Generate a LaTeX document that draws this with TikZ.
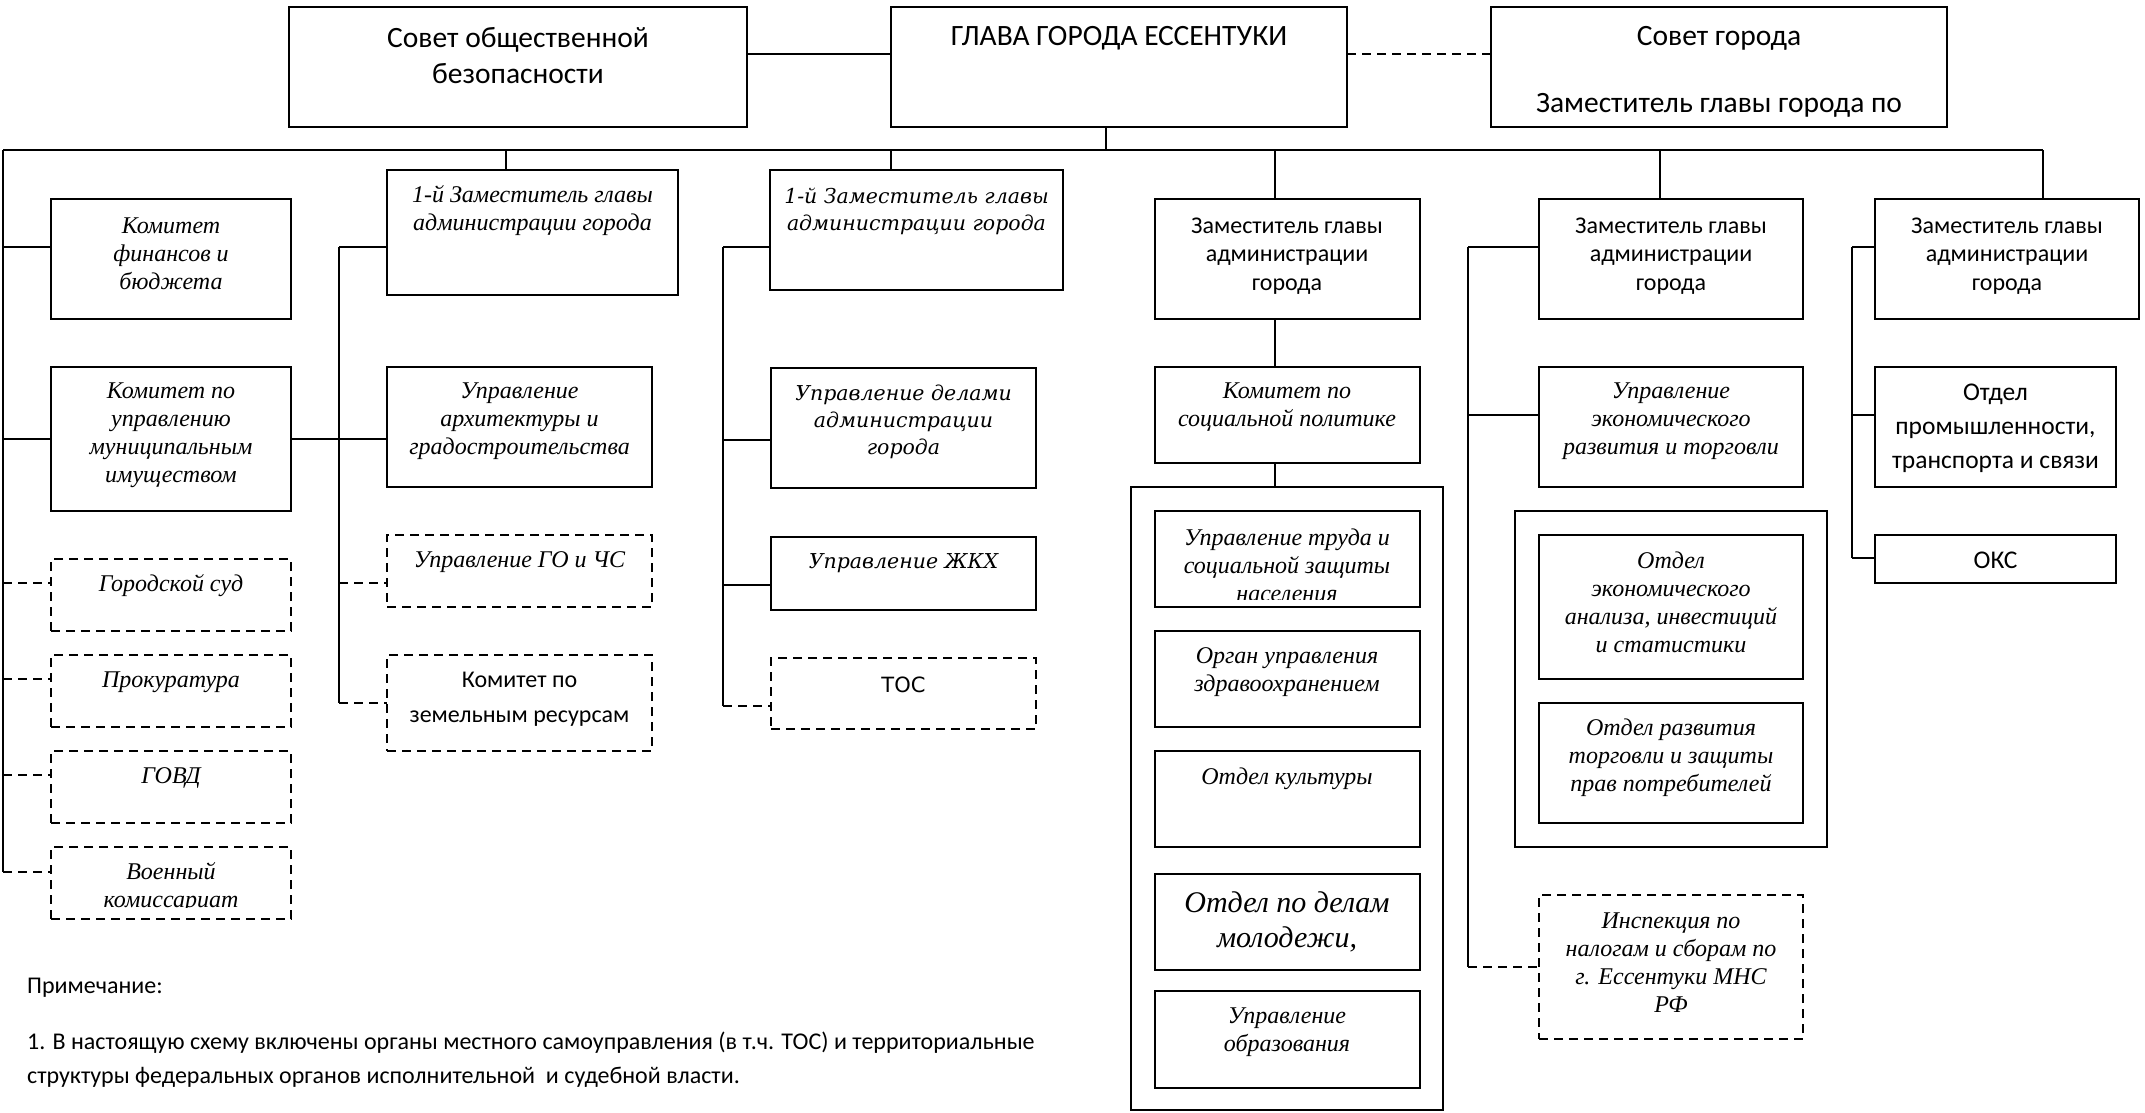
\documentclass[tikz,border=0pt]{standalone}
\usepackage{fontspec}
\newfontfamily\carl{Carlito}
\newfontfamily\tnri{Liberation Serif}
\newfontfamily\dvser{DejaVu Serif}
\newfontfamily\dvsan{DejaVu Sans}
\newcommand\fTop{\carl\fontsize{29.5}{36}\selectfont}
\newcommand\fZ{\carl\fontsize{24}{28.5}\selectfont}
\newcommand\fCm{\carl\fontsize{24}{35}\selectfont}
\newcommand\fCp{\carl\fontsize{25.5}{34}\selectfont}
\newcommand\fTI{\tnri\itshape\fontsize{24}{28}\selectfont}
\newcommand\fTIb{\tnri\itshape\fontsize{30}{35}\selectfont}
\newcommand\fDV{\dvser\itshape\fontsize{20.5}{27}\selectfont}
\newcommand\fDS{\dvsan\fontsize{21}{27}\selectfont}
\newcommand\fN{\carl\fontsize{24}{34}\selectfont}
\tikzset{
  bx/.style={draw, line width=2.2pt, inner sep=0pt, outer sep=0pt},
  dbx/.style={bx, dash pattern=on 9pt off 6pt},
  ln/.style={line width=2pt},
  dln/.style={ln, dash pattern=on 9pt off 6pt},
  lb/.style={inner sep=0pt, align=center},
}
\newcommand\mkbox[6]{%
  \pgfmathsetmacro\bw{#5-#3}\pgfmathsetmacro\bh{#6-#4}%
  \node[#1, minimum width=\bw pt, minimum height=\bh pt, anchor=north west] (#2) at (#3,#4) {};}
\newcommand\mklb[5]{\node[lb, font=#4] (#1) at (#2,#3) {#5};}
\begin{document}
\begin{tikzpicture}[x=1pt,y=-1pt]
\useasboundingbox (0,0) rectangle (2145,1112);
\fill[white] (0,0) rectangle (2145,1112);
% boxes
\mkbox{bx}{sovetob}{289}{7}{747}{127}
\mkbox{bx}{glava}{891}{7}{1347}{127}
\mkbox{bx}{sovetg}{1491}{7}{1947}{127}
\mkbox{bx}{fin}{51}{199}{291}{319}
\mkbox{bx}{mun}{51}{367}{291}{511}
\mkbox{dbx}{sud}{51}{559}{291}{631}
\mkbox{dbx}{prok}{51}{655}{291}{727}
\mkbox{dbx}{govd}{51}{751}{291}{823}
\mkbox{dbx}{voen}{51}{847}{291}{919}
\mkbox{bx}{zam1}{387}{170}{678}{295}
\mkbox{bx}{arch}{387}{367}{652}{487}
\mkbox{dbx}{go}{387}{535}{652}{607}
\mkbox{dbx}{zem}{387}{655}{652}{751}
\mkbox{bx}{zam2}{770}{170}{1063}{290}
\mkbox{bx}{dela}{771}{368}{1036}{488}
\mkbox{bx}{zhkh}{771}{537}{1036}{610}
\mkbox{dbx}{tos}{771}{658}{1036}{729}
\mkbox{bx}{zam3}{1155}{199}{1420}{319}
\mkbox{bx}{soc}{1155}{367}{1420}{463}
\mkbox{bx}{outer4}{1131}{487}{1443}{1110}
\mkbox{bx}{trud}{1155}{511}{1420}{607}
\mkbox{bx}{zdrav}{1155}{631}{1420}{727}
\mkbox{bx}{kult}{1155}{751}{1420}{847}
\mkbox{bx}{molod}{1155}{874}{1420}{970}
\mkbox{bx}{obraz}{1155}{991}{1420}{1088}
\mkbox{bx}{zam4}{1539}{199}{1803}{319}
\mkbox{bx}{econ}{1539}{367}{1803}{487}
\mkbox{bx}{outer5}{1515}{511}{1827}{847}
\mkbox{bx}{anal}{1539}{535}{1803}{679}
\mkbox{bx}{torg}{1539}{703}{1803}{823}
\mkbox{dbx}{insp}{1539}{895}{1803}{1039}
\mkbox{bx}{zam5}{1875}{199}{2139}{319}
\mkbox{bx}{prom}{1875}{367}{2116}{487}
\mkbox{bx}{oks}{1875}{535}{2116}{583}
% labels
\mklb{tsovetob}{518}{56}{\fTop}{Совет общественной\\безопасности}
\mklb{tglava}{1119}{38}{\fTop}{ГЛАВА ГОРОДА ЕССЕНТУКИ}
\mklb{tsovetg1}{1719}{38}{\fTop}{Совет города}
\mklb{tsovetg2}{1719}{105}{\fTop}{Заместитель главы города по}
\mklb{tfin}{171}{253.5}{\fTI}{Комитет\\финансов и\\бюджета}
\mklb{tmun}{171}{435}{\fTI}{Комитет по\\управлению\\муниципальным\\имуществом}
\mklb{tsud}{171}{586}{\fTI}{Городской суд}
\mklb{tprok}{171}{682}{\fTI}{Прокуратура}
\mklb{tgovd}{171}{778}{\fTI}{ГОВД}
\begin{scope}
\clip (voen.north west) rectangle ([yshift=12pt]voen.south east);
\mklb{tvoen}{171}{887.5}{\fTI}{Военный\\комиссариат}
\end{scope}
\mklb{tzam1}{532.5}{211}{\fTI}{1-й Заместитель главы\\администрации города}
\mklb{tarch}{519.5}{421}{\fTI}{Управление\\архитектуры и\\градостроительства}
\mklb{tgo}{519.5}{562}{\fTI}{Управление ГО и ЧС}
\mklb{tzem}{519.5}{699.5}{\fCm}{Комитет по\\земельным ресурсам}
\mklb{tzam2}{916.5}{211}{\fDV}{1-й Заместитель главы\\администрации города}
\mklb{tdela}{903.5}{422}{\fDV}{Управление делами\\администрации\\города}
\mklb{tzhkh}{903.5}{563}{\fDV}{Управление ЖКХ}
\mklb{ttos}{903.5}{685}{\fDS}{ТОС}
\mklb{tzam3}{1287}{256}{\fZ}{Заместитель главы\\администрации\\города}
\mklb{tsoc}{1287}{407.5}{\fTI}{Комитет по\\социальной политике}
\begin{scope}
\clip (trud.north west) rectangle ([yshift=8pt]trud.south east);
\mklb{ttrud}{1287}{565}{\fTI}{Управление труда и\\социальной защиты\\населения}
\end{scope}
\mklb{tzdrav}{1287}{672}{\fTI}{Орган управления\\здравоохранением}
\mklb{tkult}{1287}{779}{\fTI}{Отдел культуры}
\mklb{tmolod}{1287}{921.5}{\fTIb}{Отдел по делам\\молодежи,}
\mklb{tobraz}{1287}{1032}{\fTI}{Управление\\образования}
\mklb{tzam4}{1671}{256}{\fZ}{Заместитель главы\\администрации\\города}
\mklb{tecon}{1671}{421}{\fTI}{Управление\\экономического\\развития и торговли}
\mklb{tanal}{1671}{602.5}{\fTI}{Отдел\\экономического\\анализа, инвестиций\\и статистики}
\mklb{ttorg}{1671}{757.5}{\fTI}{Отдел развития\\торговли и защиты\\прав потребителей}
\mklb{tinsp}{1671}{962.5}{\fTI}{Инспекция по\\налогам и сборам по\\г. Ессентуки МНС\\РФ}
\mklb{tzam5}{2007}{256}{\fZ}{Заместитель главы\\администрации\\города}
\mklb{tprom}{1995.5}{428}{\fCp}{Отдел\\промышленности,\\транспорта и связи}
\mklb{toks}{1995.5}{560}{\fCp}{ОКС}
% notes
\node[inner sep=0pt, anchor=west, font=\fN] (note0) at (27,988) {Примечание:};
\node[inner sep=0pt, anchor=north west, align=left, font=\fN] (note1) at (27,1032) {1. В настоящую схему включены органы местного самоуправления (в т.ч. ТОС) и территориальные\\структуры федеральных органов исполнительной\ \ и судебной власти.};
% coordinates
\coordinate (bL) at (3,150);
\coordinate (bR) at (2043,150);
\coordinate (bG) at (1106,150);
\coordinate (b2) at (506,150);
\coordinate (b3) at (891,150);
\coordinate (b4) at (1275,150);
\coordinate (b5) at (1660,150);
\coordinate (c11) at (3,247);
\coordinate (c12) at (3,439);
\coordinate (c13) at (3,583);
\coordinate (c14) at (3,679);
\coordinate (c15) at (3,775);
\coordinate (c16) at (3,872);
\coordinate (c21) at (339,247);
\coordinate (c23) at (339,583);
\coordinate (c24) at (339,703);
\coordinate (c31) at (723,247);
\coordinate (c32) at (723,440);
\coordinate (c33) at (723,585);
\coordinate (c34) at (723,706);
\coordinate (c51) at (1468,247);
\coordinate (c52) at (1468,415);
\coordinate (c53) at (1468,967);
\coordinate (c61) at (1852,247);
\coordinate (c62) at (1852,415);
\coordinate (c63) at (1852,558);
% connectors
\draw[ln] ([yshift=13pt]sovetob.east) -- ([yshift=13pt]glava.west);
\draw[dln] ([yshift=13pt]glava.east) -- ([yshift=13pt]sovetg.west);
\draw[ln] (bL) -- (bR);
\draw[ln] (glava.south -| bG) -- (bG);
\draw[ln] (b2) -- (zam1.north -| b2);
\draw[ln] (b3) -- (zam2.north -| b3);
\draw[ln] (b4) -- (zam3.north -| b4);
\draw[ln] (b5) -- (zam4.north -| b5);
\draw[ln] (bR) -- (zam5.north -| bR);
% column 1
\draw[ln] (bL) -- (c16);
\draw[ln] (c11) -- (c11 -| fin.west);
\draw[ln] (c12) -- (c12 -| mun.west);
\draw[dln] (c13) -- (c13 -| sud.west);
\draw[dln] (c14) -- (c14 -| prok.west);
\draw[dln] (c15) -- (c15 -| govd.west);
\draw[dln] (c16) -- (c16 -| voen.west);
% column 2
\draw[ln] (c21) -- (c24);
\draw[ln] (c21) -- (c21 -| zam1.west);
\draw[ln] (mun.east) -- (mun.east -| arch.west);
\draw[dln] (c23) -- (c23 -| go.west);
\draw[dln] (c24) -- (c24 -| zem.west);
% column 3
\draw[ln] (c31) -- (c34);
\draw[ln] (c31) -- (c31 -| zam2.west);
\draw[ln] (c32) -- (c32 -| dela.west);
\draw[ln] (c33) -- (c33 -| zhkh.west);
\draw[dln] (c34) -- (c34 -| tos.west);
% column 4
\draw[ln] (zam3.south -| b4) -- (soc.north -| b4);
\draw[ln] (soc.south -| b4) -- (outer4.north -| b4);
% column 5
\draw[ln] (c51) -- (c53);
\draw[ln] (c51) -- (c51 -| zam4.west);
\draw[ln] (c52) -- (c52 -| econ.west);
\draw[dln] (c53) -- (c53 -| insp.west);
% column 6
\draw[ln] (c61) -- (c63);
\draw[ln] (c61) -- (c61 -| zam5.west);
\draw[ln] (c62) -- (c62 -| prom.west);
\draw[ln] (c63) -- (c63 -| oks.west);
\end{tikzpicture}
\end{document}
